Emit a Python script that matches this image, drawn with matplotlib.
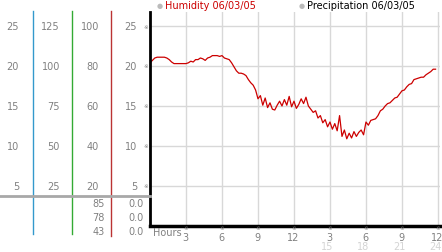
import matplotlib
matplotlib.use("Agg")
from matplotlib import pyplot as plt
from matplotlib.transforms import blended_transform_factory

# hours since midnight and humidity-scale values
hours = [i * 0.2 for i in range(120)]
humidity = [20.4, 20.7, 21.0, 21.1, 21.1, 21.1, 21.1, 21.0, 20.8, 20.5,
            20.3, 20.3, 20.3, 20.3, 20.3, 20.3, 20.4, 20.6, 20.5, 20.8,
            20.8, 21.0, 20.9, 20.7, 21.0, 21.1, 21.3, 21.3, 21.3, 21.2,
            21.3, 21.0, 20.9, 20.8, 20.4, 19.9, 19.4, 19.1, 19.1, 19.0,
            18.8, 18.3, 17.9, 17.6, 17.0, 15.9, 16.3, 15.1, 16.0, 14.8,
            15.4, 14.6, 14.5, 15.1, 15.6, 15.0, 15.8, 15.1, 16.2, 14.9,
            15.6, 14.7, 15.2, 15.9, 15.3, 16.1, 15.0, 14.6, 14.2, 14.4,
            13.5, 13.8, 12.9, 13.3, 12.4, 13.0, 12.1, 12.8, 11.9, 13.8,
            11.2, 12.0, 10.9, 11.6, 11.0, 11.8, 11.2, 11.7, 12.0, 11.4,
            13.0, 12.6, 13.2, 13.3, 13.4, 13.8, 14.4, 14.6, 15.0, 15.3,
            15.4, 15.7, 16.0, 16.1, 16.5, 16.9, 17.0, 17.4, 17.7, 17.8,
            18.3, 18.4, 18.5, 18.6, 18.6, 18.9, 19.1, 19.3, 19.6, 19.6]

y_ticks = [25, 20, 15, 10, 5]
col_a = ["25", "20", "15", "10", "5"]
col_b = ["125", "100", "75", "50", "25"]
col_c = ["100", "80", "60", "40", "20"]
col_d = ["25", "20", "15", "10", "5"]
low_c = ["85", "78", "43"]
low_d = ["0.0", "0.0", "0.0"]
x_ticks = [3, 6, 9, 12, 15, 18, 21, 24]
x_labels = ["3", "6", "9", "12", "3", "6", "9", "12"]
x_labels2 = ["15", "18", "21", "24"]

W, H = 442, 253
fig = plt.figure(figsize=(W / 100, H / 100), dpi=100)
ax = fig.add_axes([150 / W, (H - 227) / H, 290 / W, 214 / H])
ax.plot(hours, humidity, color="#cc0000", lw=0.9)
ax.set_xlim(0, 24.17)
ax.set_ylim(0, 26.75)
ax.set_xticks(x_ticks)
ax.set_yticks(y_ticks)
ax.grid(True, color="#d8d8d8", lw=1)
ax.tick_params(length=0, labelleft=False, labelbottom=False)
for s in ["top", "right"]:
    ax.spines[s].set_visible(False)
ax.spines["left"].set_linewidth(2)
ax.spines["bottom"].set_linewidth(2.5)

gray = "#808080"
fs = 7
px = lambda x: x / W
tr = blended_transform_factory(fig.transFigure, ax.transData)
for i, y in enumerate(y_ticks):
    fig.text(px(19), y, col_a[i], transform=tr, ha="right", va="center", fontsize=fs, color=gray)
    fig.text(px(60), y, col_b[i], transform=tr, ha="right", va="center", fontsize=fs, color=gray)
    fig.text(px(99), y, col_c[i], transform=tr, ha="right", va="center", fontsize=fs, color=gray)
    fig.text(px(137), y, col_d[i], transform=tr, ha="right", va="center", fontsize=fs, color=gray)
    fig.text(px(146), y, "※", transform=tr, ha="center", va="center", fontsize=4, color=gray)

for i, yy in enumerate([204, 218, 232]):
    fig.text(px(105), 1 - yy / H, low_c[i], ha="right", va="center", fontsize=fs, color=gray)
    fig.text(px(144), 1 - yy / H, low_d[i], ha="right", va="center", fontsize=fs, color=gray)

# separators in the left panel
for x, c, y1 in [(33, "#3399cc", 235), (72, "#33aa33", 235), (111, "#bb3333", 237)]:
    fig.add_artist(plt.Line2D([px(x), px(x)], [1 - 12 / H, 1 - y1 / H], color=c, lw=1))
fig.add_artist(plt.Line2D([0, px(150)], [1 - 197 / H, 1 - 197 / H], color="#a8a8a8", lw=2))

# bottom hour labels
trx = blended_transform_factory(ax.transData, fig.transFigure)
for i, x in enumerate(x_ticks):
    fig.text(x, 1 - 229 / H, "※", transform=trx, ha="center", va="center", fontsize=4, color=gray)
    fig.text(x - 0.05, 1 - 238 / H, x_labels[i], transform=trx, ha="center", va="center", fontsize=fs, color=gray)
for i, x in enumerate(x_ticks[4:]):
    fig.text(x - 0.25, 1 - 247 / H, x_labels2[i], transform=trx, ha="center", va="center", fontsize=fs, color="#d4d4d4")
fig.text(px(153), 1 - 233 / H, "Hours", ha="left", va="center", fontsize=fs, color=gray)

# legend-like title
fig.text(px(160), 1 - 6 / H, "●", ha="center", va="center", fontsize=5, color="#bbbbbb")
fig.text(px(165), 1 - 6 / H, "Humidity 06/03/05", ha="left", va="center", fontsize=fs, color="#cc0000")
fig.text(px(302), 1 - 6 / H, "●", ha="center", va="center", fontsize=5, color="#bbbbbb")
fig.text(px(307), 1 - 6 / H, "Precipitation 06/03/05", ha="left", va="center", fontsize=fs, color="black")

fig.savefig("out.png", dpi=100)
